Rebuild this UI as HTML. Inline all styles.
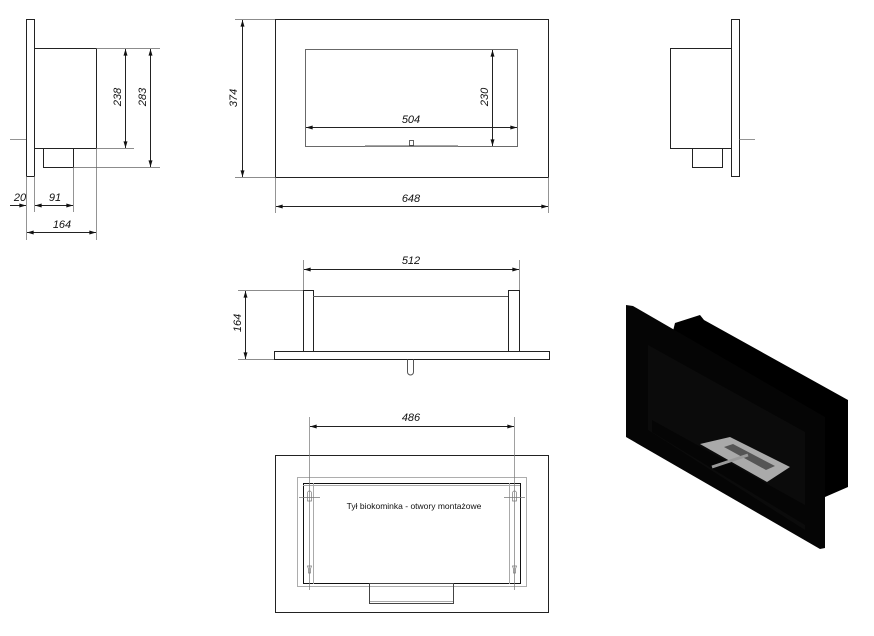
<!DOCTYPE html>
<html><head><meta charset="utf-8"><style>
html,body{margin:0;padding:0;background:#fff;}
svg{display:block;}
text{font-family:"Liberation Sans",sans-serif;font-size:11px;font-style:italic;fill:#111;}
</style></head><body>
<svg width="874" height="636" viewBox="0 0 874 636" xmlns="http://www.w3.org/2000/svg">
<defs>
<marker id="a" viewBox="0 0 10 6" refX="10" refY="3" markerWidth="8" markerHeight="4" orient="auto-start-reverse"><path d="M0,0L10,3L0,6z" fill="#111"/></marker>
</defs>
<g fill="none" stroke="#222" stroke-width="1">
<!-- left side view -->
<rect x="26.5" y="19.5" width="8" height="157"/>
<rect x="34.5" y="48.5" width="62" height="100"/>
<polyline points="43.5,148.5 43.5,167.5 73.5,167.5 73.5,148.5"/>
<g stroke="#666" stroke-width="0.7">
<line x1="96" y1="48.5" x2="160" y2="48.5"/>
<line x1="96" y1="148.5" x2="134" y2="148.5"/>
<line x1="73" y1="167.5" x2="160" y2="167.5"/>
<line x1="10" y1="139.5" x2="26" y2="139.5"/>
<line x1="26.5" y1="176" x2="26.5" y2="240"/>
<line x1="34.5" y1="176" x2="34.5" y2="212"/>
<line x1="73.5" y1="167" x2="73.5" y2="212"/>
<line x1="96.5" y1="148" x2="96.5" y2="240"/>
</g>
<line x1="125.5" y1="49" x2="125.5" y2="148" marker-start="url(#a)" marker-end="url(#a)"/>
<line x1="150.5" y1="49" x2="150.5" y2="167" marker-start="url(#a)" marker-end="url(#a)"/>
<line x1="10" y1="205.5" x2="26" y2="205.5" marker-end="url(#a)"/>
<line x1="35" y1="205.5" x2="73" y2="205.5" marker-start="url(#a)" marker-end="url(#a)"/>
<line x1="27" y1="232.5" x2="96" y2="232.5" marker-start="url(#a)" marker-end="url(#a)"/>
<!-- front view -->
<rect x="275.5" y="19.5" width="273" height="158"/>
<rect x="305.5" y="49.5" width="212" height="97" stroke="#444" stroke-width="0.8"/>
<line x1="365" y1="146" x2="458" y2="146" stroke="#888" stroke-width="1.6"/>
<rect x="409.5" y="140.5" width="4" height="5" stroke-width="0.7"/>
<g stroke="#666" stroke-width="0.7">
<line x1="235" y1="19.5" x2="275" y2="19.5"/>
<line x1="235" y1="177.5" x2="275" y2="177.5"/>
<line x1="275.5" y1="177" x2="275.5" y2="213"/>
<line x1="548.5" y1="177" x2="548.5" y2="213"/>
</g>
<line x1="242.5" y1="20" x2="242.5" y2="177" marker-start="url(#a)" marker-end="url(#a)"/>
<line x1="492.5" y1="50" x2="492.5" y2="146" marker-start="url(#a)" marker-end="url(#a)"/>
<line x1="306" y1="127.5" x2="517" y2="127.5" marker-start="url(#a)" marker-end="url(#a)"/>
<line x1="276" y1="206.5" x2="548" y2="206.5" marker-start="url(#a)" marker-end="url(#a)"/>
<!-- right side view -->
<rect x="731.5" y="19.5" width="8" height="157"/>
<rect x="670.5" y="48.5" width="61" height="100"/>
<polyline points="692.5,148.5 692.5,167.5 722.5,167.5 722.5,148.5"/>
<line x1="739" y1="139.5" x2="755" y2="139.5" stroke="#666" stroke-width="0.7"/>
<!-- top view -->
<rect x="303.5" y="290.5" width="10" height="61"/>
<rect x="508.5" y="290.5" width="11" height="61"/>
<line x1="313" y1="296.5" x2="508" y2="296.5" stroke="#555"/>
<rect x="274.5" y="351.5" width="275" height="8"/>
<path d="M407.5,359.5 V372 a3,3 0 0 0 6,0 V359.5" stroke="#555"/>
<g stroke="#666" stroke-width="0.7">
<line x1="303.5" y1="260" x2="303.5" y2="290"/>
<line x1="519.5" y1="260" x2="519.5" y2="290"/>
<line x1="238" y1="290.5" x2="303" y2="290.5"/>
<line x1="238" y1="359.5" x2="274" y2="359.5"/>
</g>
<line x1="304" y1="269.5" x2="519" y2="269.5" marker-start="url(#a)" marker-end="url(#a)"/>
<line x1="245.5" y1="291" x2="245.5" y2="359" marker-start="url(#a)" marker-end="url(#a)"/>
<!-- back view -->
<rect x="275.5" y="455.5" width="273" height="157"/>
<rect x="297.5" y="477.5" width="229" height="109" stroke="#999" stroke-width="0.8"/>
<rect x="303.5" y="483.5" width="217" height="100" stroke="#111"/>
<line x1="313.5" y1="483" x2="313.5" y2="584" stroke="#aaa"/>
<line x1="509.5" y1="483" x2="509.5" y2="584" stroke="#aaa"/>
<line x1="303" y1="485.5" x2="520" y2="485.5" stroke="#aaa"/>
<rect x="369.5" y="583.5" width="84" height="20" stroke="#444"/>
<line x1="370" y1="601.5" x2="453" y2="601.5" stroke="#aaa"/>
<g stroke="#777" stroke-width="0.7">
<line x1="309.5" y1="417" x2="309.5" y2="590"/>
<line x1="514.5" y1="417" x2="514.5" y2="590"/>
<line x1="299" y1="497.5" x2="320" y2="497.5"/>
<line x1="504" y1="497.5" x2="525" y2="497.5"/>
<path d="M307.5,501 V493 a2,2 0 0 1 4,0 V501z"/>
<path d="M512.5,501 V493 a2,2 0 0 1 4,0 V501z"/>
<path d="M307.5,566 h4 l-1,3 v4 h-2 v-4z"/>
<path d="M512.5,566 h4 l-1,3 v4 h-2 v-4z"/>
</g>
<line x1="310" y1="426.5" x2="514" y2="426.5" marker-start="url(#a)" marker-end="url(#a)"/>
</g>
<!-- labels -->
<text x="20" y="201" text-anchor="middle">20</text>
<text x="55" y="201" text-anchor="middle">91</text>
<text x="62" y="228" text-anchor="middle">164</text>
<text transform="translate(121,97) rotate(-90)" text-anchor="middle">238</text>
<text transform="translate(146,97) rotate(-90)" text-anchor="middle">283</text>
<text transform="translate(237,98) rotate(-90)" text-anchor="middle">374</text>
<text transform="translate(488,97) rotate(-90)" text-anchor="middle">230</text>
<text x="411" y="123" text-anchor="middle">504</text>
<text x="411" y="202" text-anchor="middle">648</text>
<text x="411" y="264" text-anchor="middle">512</text>
<text transform="translate(241,323) rotate(-90)" text-anchor="middle">164</text>
<text x="411" y="421" text-anchor="middle">486</text>
<text x="414" y="509" text-anchor="middle" style="font-style:normal;font-size:8.5px">Tył biokominka - otwory montażowe</text>
<!-- 3D view -->
<polygon points="672,335 675,323 700,315 704,320 848,400 848,487 825,497 825,425" fill="#000"/>
<polygon points="626,305 633,306 825,417 825,548 820,549 626,437" fill="#050505"/>
<polygon points="648,345 805,432 805,530 648,430" fill="#0b0b0b"/>
<polygon points="652,420 805,505 805,525 652,432" fill="#050505"/>
<polygon points="700,444 730,437 790,467 767,482" fill="#aaa"/>
<polygon points="724,447 733,444 775,466 766,470" fill="#555"/>
<line x1="712" y1="467" x2="748" y2="455" stroke="#999" stroke-width="3"/>
</svg>
</body></html>
